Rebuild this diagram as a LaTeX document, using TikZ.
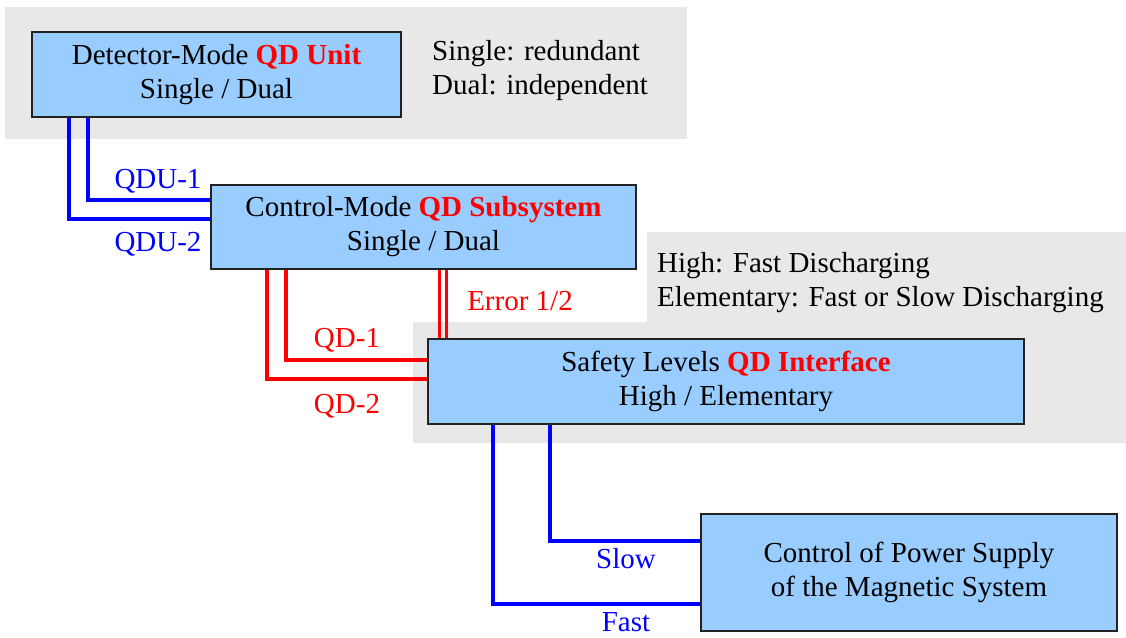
\documentclass[tikz,border=0pt]{standalone}
\usepackage{fontspec}
\setmainfont{Liberation Serif}
\usetikzlibrary{calc}
\definecolor{boxfill}{HTML}{99CCFF}
\definecolor{bggray}{HTML}{E8E8E8}
\definecolor{boxline}{HTML}{222222}
\definecolor{pureblue}{HTML}{0000FF}
\definecolor{purered}{HTML}{FF0000}
\begin{document}
\begin{tikzpicture}[x=1pt,y=-1pt,
  every node/.style={font=\fontsize{29}{34}\selectfont, inner sep=0pt},
  unitbox/.style={draw=boxline, line width=2pt, fill=boxfill, align=center},
  note/.style={align=left, anchor=west},
  blueline/.style={draw=pureblue, line width=4pt},
  redline/.style={draw=purered, line width=4pt},
  errline/.style={draw=purered, line width=2.5pt},
  bluelabel/.style={text=pureblue},
  redlabel/.style={text=purered}
]
\useasboundingbox (0,0) rectangle (1126,637);
% backgrounds
\fill[bggray] (5,7) rectangle (687,139);
\fill[bggray] (647,232) -- (1126,232) -- (1126,443) -- (413,443) -- (413,322) -- (647,322) -- cycle;

% boxes
\node[unitbox, minimum width=369pt, minimum height=85pt] (b1) at (216.5,74.5)
  {Detector-Mode {\bfseries\color{purered}QD Unit}\\Single / Dual};
\node[unitbox, minimum width=425pt, minimum height=84pt] (b2) at (423.5,227)
  {Control-Mode {\bfseries\color{purered}QD Subsystem}\\Single / Dual};
\node[unitbox, minimum width=596pt, minimum height=85pt] (b3) at (726,381.5)
  {Safety Levels {\bfseries\color{purered}QD Interface}\\High / Elementary};
\node[unitbox, minimum width=416pt, minimum height=117pt] (b4) at (909,572.5)
  {Control of Power Supply\\of the Magnetic System};

% notes
\node[note] (n1) at (432,71) {Single: redundant\\Dual: independent};
\node[note] (n2) at (657,283) {High: Fast Discharging\\Elementary: Fast or Slow Discharging};

% blue connectors box1 -> box2
\draw[blueline] ($(b1.south west)+(57,0)$) |- ($(b2.west)+(0,-27)$);
\draw[blueline] ($(b1.south west)+(38,0)$) |- ($(b2.west)+(0,-8)$);
% red connectors box2 -> box3
\draw[redline] ($(b2.south west)+(76,0)$) |- ($(b3.west)+(0,-21.5)$);
\draw[redline] ($(b2.south west)+(57,0)$) |- ($(b3.west)+(0,-2.5)$);
\coordinate (e1) at ($(b2.south west)+(229.5,0)$);
\coordinate (e2) at ($(b2.south west)+(236.5,0)$);
\draw[errline] (e1) -- (e1 |- b3.north);
\draw[errline] (e2) -- (e2 |- b3.north);
% blue connectors box3 -> box4
\draw[blueline] ($(b3.south west)+(123,0)$) |- ($(b4.west)+(0,-31.5)$);
\draw[blueline] ($(b3.south west)+(66,0)$) |- ($(b4.west)+(0,31.5)$);

% labels
\node[bluelabel] (l1) at (158,181) {QDU-1};
\node[bluelabel] (l2) at (158,244) {QDU-2};
\node[redlabel] (l3) at (347,340) {QD-1};
\node[redlabel] (l4) at (347,406) {QD-2};
\node[redlabel] (l5) at (520,301) {Error 1/2};
\node[bluelabel] (l6) at (626,559) {Slow};
\node[bluelabel] (l7) at (626,622) {Fast};
\end{tikzpicture}
\end{document}
